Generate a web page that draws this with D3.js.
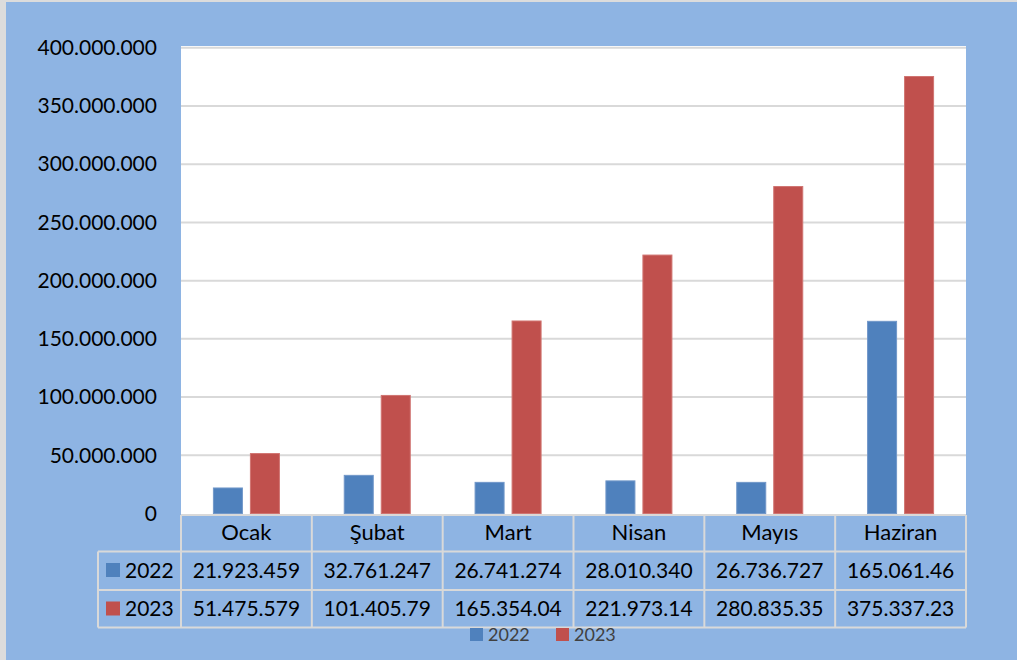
<!DOCTYPE html>
<html>
<head>
<meta charset="utf-8">
<script src="https://cdn.jsdelivr.net/npm/d3@7"></script>
<style>
  html, body { margin: 0; padding: 0; background: #8eb4e3; }
  svg { display: block; font-family: Lato, "Noto Sans", sans-serif; }
</style>
</head>
<body>
<div id="chart"></div>
<script>
const months = ['Ocak', 'Şubat', 'Mart', 'Nisan', 'Mayıs', 'Haziran'];
const series = ['2022', '2023'];
const values2022 = [21923459, 32761247, 26741274, 28010340, 26736727, 165061460];
const values2023 = [51475579, 101405790, 165354040, 221973140, 280835350, 375337230];
// labels as printed in the data table (truncated by the cells)
const labels2022 = ['21.923.459', '32.761.247', '26.741.274', '28.010.340', '26.736.727', '165.061.46'];
const labels2023 = ['51.475.579', '101.405.79', '165.354.04', '221.973.14', '280.835.35', '375.337.23'];
const yTicks = [0, 50e6, 100e6, 150e6, 200e6, 250e6, 300e6, 350e6, 400e6];

const width = 1017;
const height = 660;
const colors = { '2022': '#4f81bd', '2023': '#c0504d' };
const strokes = { '2022': '#7197c9', '2023': '#d07471' };
const gridColor = '#d9d9d9';

const plot = { left: 181, right: 966, top: 46, bottom: 515 };
const rows = { header: 515, r2022: 551.5, r2023: 590, end: 627.5 };
const tableLeft = 98;

const tr = d3.formatLocale({ decimal: ',', thousands: '.', grouping: [3], currency: ['', ''] });
const fmt = tr.format(',');

const data = months.map((m, i) => ({ month: m, '2022': values2022[i], '2023': values2023[i] }));

const svg = d3.select('#chart')
  .append('svg')
  .attr('width', width)
  .attr('height', height);

// background + thin frame on left/top
svg.append('rect').attr('width', width).attr('height', height).attr('fill', '#8eb4e3');
svg.append('rect').attr('x', 0).attr('y', 0).attr('width', 6).attr('height', height).attr('fill', '#dcdcdc');
svg.append('rect').attr('x', 0).attr('y', 0).attr('width', width).attr('height', 2).attr('fill', '#dcdcdc');

// plot area
svg.append('rect')
  .attr('x', plot.left)
  .attr('y', plot.top)
  .attr('width', plot.right - plot.left)
  .attr('height', plot.bottom - plot.top)
  .attr('fill', '#fff');

const x0 = d3.scaleBand()
  .domain(months)
  .range([plot.left, plot.right]);

const x1 = d3.scaleBand()
  .domain(series)
  .range([0, x0.bandwidth()])
  .paddingInner(0.216)
  .paddingOuter(0.876);

const y = d3.scaleLinear()
  .domain([0, 400e6])
  .range([513.5, 47.8]);

// gridlines
svg.append('g')
  .selectAll('line')
  .data(yTicks.filter((d) => d > 0))
  .join('line')
  .attr('x1', plot.left)
  .attr('x2', plot.right)
  .attr('y1', (d) => y(d))
  .attr('y2', (d) => y(d))
  .attr('stroke', gridColor)
  .attr('stroke-width', 2);

// y axis labels
const yAxis = svg.append('g')
  .attr('transform', `translate(${plot.left},0)`)
  .call(d3.axisLeft(y).tickValues(yTicks).tickFormat(fmt).tickSize(0).tickPadding(24));
yAxis.select('.domain').remove();
yAxis.selectAll('text')
  .attr('font-family', 'Lato, "Noto Sans", sans-serif')
  .attr('font-size', 21)
  .attr('fill', '#000')
  .attr('dy', '0.32em');

// bars
svg.append('g')
  .selectAll('g')
  .data(data)
  .join('g')
  .attr('transform', (d) => `translate(${x0(d.month)},0)`)
  .selectAll('rect')
  .data((d) => series.map((s) => ({ key: s, value: d[s] })))
  .join('rect')
  .attr('x', (d) => x1(d.key))
  .attr('width', x1.bandwidth())
  .attr('y', (d) => y(d.value))
  .attr('height', (d) => y(0) - y(d.value))
  .attr('fill', (d) => colors[d.key])
  .attr('stroke', (d) => strokes[d.key])
  .attr('stroke-width', 1);

// data table
const table = svg.append('g');
const hLines = [
  { y: rows.header, x1: plot.left },
  { y: rows.r2022, x1: tableLeft },
  { y: rows.r2023, x1: tableLeft },
  { y: rows.end, x1: tableLeft },
];
table.selectAll('line.h')
  .data(hLines)
  .join('line')
  .attr('class', 'h')
  .attr('x1', (d) => d.x1)
  .attr('x2', plot.right)
  .attr('y1', (d) => d.y)
  .attr('y2', (d) => d.y)
  .attr('stroke', gridColor)
  .attr('stroke-width', 2);

const vEdges = months.map((m) => x0(m)).concat([plot.right]);
table.selectAll('line.v')
  .data(vEdges)
  .join('line')
  .attr('class', 'v')
  .attr('x1', (d) => d)
  .attr('x2', (d) => d)
  .attr('y1', rows.header)
  .attr('y2', rows.end)
  .attr('stroke', gridColor)
  .attr('stroke-width', 2);
table.append('line')
  .attr('x1', tableLeft).attr('x2', tableLeft)
  .attr('y1', rows.r2022).attr('y2', rows.end)
  .attr('stroke', gridColor).attr('stroke-width', 2);

// header row
table.selectAll('text.month')
  .data(months)
  .join('text')
  .attr('class', 'month')
  .attr('x', (d) => x0(d) + x0.bandwidth() / 2)
  .attr('y', 540)
  .attr('text-anchor', 'middle')
  .attr('font-size', 22)
  .text((d) => d);

const tableRows = [
  { key: '2022', labels: labels2022, base: 577.7, top: rows.r2022 },
  { key: '2023', labels: labels2023, base: 615.7, top: rows.r2023 },
];
tableRows.forEach((r) => {
  table.append('rect')
    .attr('x', 106)
    .attr('y', r.top + 11.5)
    .attr('width', 14)
    .attr('height', 14)
    .attr('fill', colors[r.key]);
  table.append('text')
    .attr('x', 125)
    .attr('y', r.base)
    .attr('font-size', 21)
    .text(r.key);
  table.selectAll(`text.v${r.key}`)
    .data(r.labels)
    .join('text')
    .attr('class', `v${r.key}`)
    .attr('x', (d, i) => x0(months[i]) + x0.bandwidth() / 2)
    .attr('y', r.base)
    .attr('text-anchor', 'middle')
    .attr('font-size', 21)
    .text((d) => d);
});

// legend
const legend = svg.append('g');
const legendX = { '2022': 470, '2023': 556 };
series.forEach((s) => {
  legend.append('rect')
    .attr('x', legendX[s])
    .attr('y', 628)
    .attr('width', 13)
    .attr('height', 13)
    .attr('fill', colors[s]);
  legend.append('text')
    .attr('x', legendX[s] + 18)
    .attr('y', 641)
    .attr('font-size', 18)
    .attr('fill', '#404040')
    .text(s);
});
</script>
</body>
</html>
